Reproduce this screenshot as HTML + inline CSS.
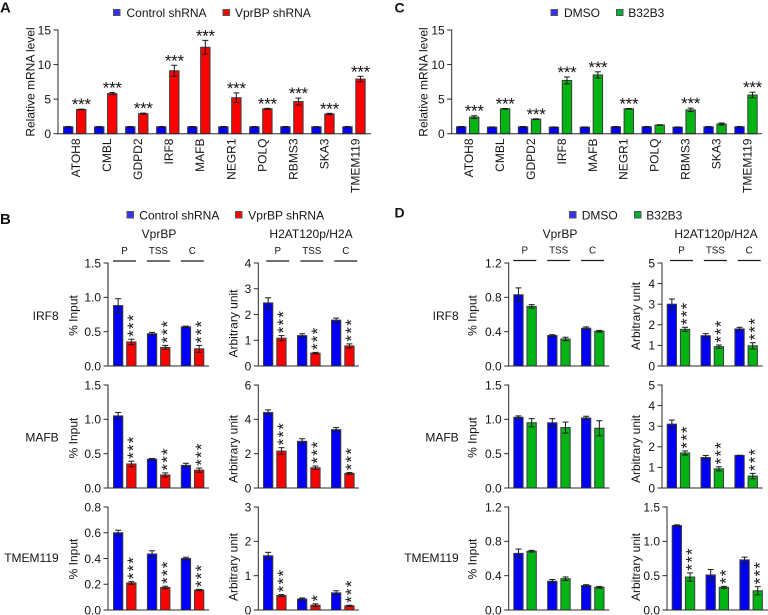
<!DOCTYPE html>
<html lang="en">
<head>
<meta charset="utf-8">
<title>mRNA and ChIP bar charts</title>
<style>
html,body{margin:0;padding:0;background:#fff;}
svg{display:block;}
text{font-family:"Liberation Sans",Arial,sans-serif;fill:#141414;}
</style>
</head>
<body>
<svg id="figure" width="768" height="615" viewBox="0 0 768 615" xmlns="http://www.w3.org/2000/svg">
  <rect x="0" y="0" width="768" height="615" fill="#ffffff"/>
  <text x="0" y="12.5" font-size="15" font-weight="bold">A</text>
  <text x="0" y="224" font-size="15" font-weight="bold">B</text>
  <text x="394.5" y="12.5" font-size="14" font-weight="bold">C</text>
  <text x="394.5" y="217.5" font-size="14" font-weight="bold">D</text>

  <g>
    <rect x="113.5" y="9.5" width="6.5" height="6" fill="#3030ff" stroke="#555" stroke-width="1"/>
    <text x="126.5" y="17" font-size="12">Control shRNA</text>
    <rect x="223" y="9.5" width="6.5" height="6" fill="#ff0000" stroke="#555" stroke-width="1"/>
    <text x="235" y="17" font-size="12">VprBP shRNA</text>
  </g>
  <g>
    <rect x="127" y="211.5" width="6.5" height="6.5" fill="#3030ff" stroke="#555" stroke-width="1"/>
    <text x="139.3" y="219.5" font-size="12">Control shRNA</text>
    <rect x="235.5" y="211.5" width="6.5" height="6.5" fill="#ff0000" stroke="#555" stroke-width="1"/>
    <text x="248.3" y="219.5" font-size="12">VprBP shRNA</text>
  </g>
  <g>
    <rect x="551" y="9.5" width="6.5" height="6" fill="#3030ff" stroke="#555" stroke-width="1"/>
    <text x="564" y="17" font-size="12">DMSO</text>
    <rect x="616.5" y="9.5" width="6.5" height="6" fill="#00b030" stroke="#555" stroke-width="1"/>
    <text x="628.3" y="17" font-size="12">B32B3</text>
  </g>
  <g>
    <rect x="569.5" y="211.5" width="6.5" height="6.5" fill="#3030ff" stroke="#555" stroke-width="1"/>
    <text x="581.7" y="219.5" font-size="12">DMSO</text>
    <rect x="634.5" y="211.5" width="6.5" height="6.5" fill="#00b030" stroke="#555" stroke-width="1"/>
    <text x="646.3" y="219.5" font-size="12">B32B3</text>
  </g>

  <g font-size="12" text-anchor="end">
    <text x="58.7" y="320" text-anchor="end" font-size="12">IRF8</text>
    <text x="58.7" y="441.7" text-anchor="end" font-size="12">MAFB</text>
    <text x="58.7" y="562" text-anchor="end" font-size="12">TMEM119</text>
  </g>
  <g font-size="12" text-anchor="end">
    <text x="458.7" y="320" text-anchor="end" font-size="12">IRF8</text>
    <text x="458.7" y="441.7" text-anchor="end" font-size="12">MAFB</text>
    <text x="458.7" y="562" text-anchor="end" font-size="12">TMEM119</text>
  </g>

  <g font-size="12">
    <text x="159" y="238" text-anchor="middle" font-size="12">VprBP</text>
    <text x="311" y="238" text-anchor="middle" font-size="12">H2AT120p/H2A</text>
    <text x="560" y="238" text-anchor="middle" font-size="12">VprBP</text>
    <text x="716" y="238" text-anchor="middle" font-size="12">H2AT120p/H2A</text>
  </g>
  <g id="charts"></g>
</svg>
<script>
// Panel A
var genes = ['ATOH8','CMBL','GDPD2','IRF8','MAFB','NEGR1','POLQ','RBMS3','SKA3','TMEM119'];
var aControl = [1,1,1,1,1,1,1,1,1,1];
var aControlErr = [0.04,0.04,0.04,0.04,0.04,0.04,0.04,0.04,0.03,0.04];
var aVprbp = [3.5,5.8,2.9,9.1,12.5,5.2,3.6,4.65,2.85,7.9];
var aVprbpErr = [0.06,0.15,0.08,0.8,1.0,0.7,0.07,0.5,0.1,0.4];
var aStars = ['***','***','***','***','***','***','***','***','***','***'];
// Panel C
var cDmso = [1,0.95,1,0.95,0.95,1,1,0.95,1,1];
var cDmsoErr = [0.04,0.03,0.04,0.03,0.03,0.04,0.04,0.03,0.04,0.04];
var cB32b3 = [2.4,3.6,2.1,7.7,8.5,3.6,1.25,3.45,1.4,5.6];
var cB32b3Err = [0.2,0.05,0.05,0.5,0.45,0.05,0.05,0.25,0.15,0.4];
var cStars = ['***','***','***','***','***','***','','***','','***'];
// Shared mRNA axis
var mrnaTicks = ['0','5','10','15'];
// Panel B
var sites = ['P','TSS','C'];
var bIrf8VprbpCtrl = [0.88,0.47,0.57];
var bIrf8VprbpCtrlErr = [0.1,0.02,0.01];
var bIrf8VprbpKd = [0.35,0.27,0.25];
var bIrf8VprbpKdErr = [0.04,0.03,0.05];
var bIrf8H2aCtrl = [2.45,1.18,1.78];
var bIrf8H2aCtrlErr = [0.2,0.07,0.08];
var bIrf8H2aKd = [1.08,0.5,0.78];
var bIrf8H2aKdErr = [0.1,0.03,0.08];
var bMafbVprbpCtrl = [1.05,0.42,0.33];
var bMafbVprbpCtrlErr = [0.05,0.01,0.03];
var bMafbVprbpKd = [0.35,0.19,0.26];
var bMafbVprbpKdErr = [0.04,0.03,0.03];
var bMafbH2aCtrl = [4.4,2.72,3.4];
var bMafbH2aCtrlErr = [0.15,0.15,0.12];
var bMafbH2aKd = [2.15,1.18,0.85];
var bMafbH2aKdErr = [0.2,0.1,0.05];
var bTmemVprbpCtrl = [0.6,0.435,0.4];
var bTmemVprbpCtrlErr = [0.02,0.025,0.01];
var bTmemVprbpKd = [0.21,0.175,0.155];
var bTmemVprbpKdErr = [0.01,0.01,0.005];
var bTmemH2aCtrl = [1.58,0.32,0.5];
var bTmemH2aCtrlErr = [0.1,0.03,0.06];
var bTmemH2aKd = [0.42,0.14,0.12];
var bTmemH2aKdErr = [0.03,0.04,0.02];
var starsAll = ['***','***','***'];
var starsTmemB = ['***','*','***'];
var starsTmemD = ['***','**','***'];
var starsNone = ['','',''];
// Panel D
var dIrf8VprbpDmso = [0.83,0.355,0.44];
var dIrf8VprbpDmsoErr = [0.08,0.01,0.015];
var dIrf8VprbpDrug = [0.695,0.315,0.405];
var dIrf8VprbpDrugErr = [0.02,0.02,0.01];
var dIrf8H2aDmso = [3.0,1.47,1.8];
var dIrf8H2aDmsoErr = [0.25,0.1,0.08];
var dIrf8H2aDrug = [1.78,0.94,0.98];
var dIrf8H2aDrugErr = [0.1,0.08,0.15];
var dMafbVprbpDmso = [1.03,0.95,1.02];
var dMafbVprbpDmsoErr = [0.02,0.06,0.025];
var dMafbVprbpDrug = [0.95,0.88,0.87];
var dMafbVprbpDrugErr = [0.06,0.08,0.11];
var dMafbH2aDmso = [3.1,1.48,1.58];
var dMafbH2aDmsoErr = [0.2,0.1,0.01];
var dMafbH2aDrug = [1.7,0.93,0.58];
var dMafbH2aDrugErr = [0.1,0.1,0.13];
var dTmemVprbpDmso = [0.66,0.335,0.285];
var dTmemVprbpDmsoErr = [0.05,0.02,0.01];
var dTmemVprbpDrug = [0.685,0.365,0.265];
var dTmemVprbpDrugErr = [0.01,0.02,0.01];
var dTmemH2aDmso = [1.23,0.51,0.73];
var dTmemH2aDmsoErr = [0.01,0.08,0.04];
var dTmemH2aDrug = [0.48,0.33,0.28];
var dTmemH2aDrugErr = [0.06,0.015,0.06];
// Tick labels
var ticks15 = ['0.0','0.5','1.0','1.5'];
var ticks08 = ['0.0','0.2','0.4','0.6','0.8'];
var ticks12 = ['0.0','0.4','0.8','1.2'];
var ticks4 = ['0','1','2','3','4'];
var ticks6 = ['0','2','4','6'];
var ticks3 = ['0','1','2','3'];
var ticks5 = ['0','1','2','3','4','5'];

var NS = 'http://www.w3.org/2000/svg';
var BLUE = '#0000f5', RED = '#ff0000', GREEN = '#00b414';
var root = document.getElementById('charts');

function node(parent, tag, attrs, name) {
  var el = document.createElementNS(NS, tag);
  for (var k in attrs) el.setAttribute(k, attrs[k]);
  
  
  parent.appendChild(el);
  return el;
}
function line(parent, x1, y1, x2, y2, name, color, width) {
  return node(parent, 'line', {x1:x1, y1:y1, x2:x2, y2:y2, stroke:color || '#2a2a2a', 'stroke-width':width || 1}, name);
}
function label(parent, x, y, str, size, anchor, name, rotate) {
  var attrs = {x:x, y:y, 'font-size':size, 'text-anchor':anchor};
  if (rotate) attrs.transform = 'rotate(-90 ' + x + ' ' + y + ')';
  var el = node(parent, 'text', attrs, name);
  el.textContent = str;
  return el;
}

/* Draws one bar panel: axes come from o.axisX / o.top / o.bottom / o.max, bars from the value arrays. */
function drawPanel(o) {
  var g = node(root, 'g', {}, o.name);
  var yScale = function (v) { return o.bottom - (v / o.max) * (o.bottom - o.top); };
  var xScale = function (i, s) { return o.x0 + i * o.period + s * o.pair; };
  var bw = o.barW;

  // bars first so the axis sits over them
  for (var s = 0; s < 2; s++) {
    var vals = s === 0 ? o.a : o.b;
    var errs = s === 0 ? o.aErr : o.bErr;
    for (var i = 0; i < vals.length; i++) {
      var x = xScale(i, s), y = yScale(vals[i]), cx = x + bw / 2;
      node(g, 'rect', {x:x + 0.5, y:y, width:bw - 1, height:o.bottom - y,
        fill:s === 0 ? BLUE : o.colorB, stroke:'#3c3c3c', 'stroke-width':1}, 'bar-' + o.cats[i] + (s === 0 ? '-control' : '-treated'));
      var yT = yScale(vals[i] + errs[i]), yB = yScale(vals[i] - errs[i]);
      line(g, cx, yT, cx, yB, 'error-bar', '#1a1a1a', 1);
      line(g, cx - 3, yT, cx + 3, yT, 'error-cap-top', '#1a1a1a', 1);
      line(g, cx - 3, yB, cx + 3, yB, 'error-cap-bottom', '#1a1a1a', 1);
      if (s === 1 && o.stars[i]) {
        if (o.horizontalStars) {
          var hs = label(g, cx, yT + 1, o.stars[i], 17, 'middle', 'significance-stars');
          hs.setAttribute('letter-spacing', '-0.3');
        } else {
          var st = label(g, cx + 7.7, yT - 2.3, o.stars[i], 17, 'start', 'significance-stars', true);
          st.setAttribute('letter-spacing', '1.2');
        }
      }
    }
  }

  // axes
  line(g, o.axisX, o.top - 0.5, o.axisX, o.bottom + 0.5, 'y-axis', o.axisColor || '#2a2a2a', o.axisW || 1);
  line(g, o.axisX, o.bottom, o.axisEnd, o.bottom, 'x-axis', '#2a2a2a', 1);
  for (var t = 0; t < o.ticks.length; t++) {
    var yy = yScale(parseFloat(o.ticks[t]));
    line(g, o.axisX - 4.5, yy, o.axisX, yy, 'y-tick', '#2a2a2a', 1);
    label(g, o.axisX - 7, yy + 4.3, o.ticks[t], 12, 'end', 'y-tick-label');
  }
  label(g, o.labelX, o.labelY, o.yTitle, 12, 'middle', 'y-axis-title', true);

  if (o.geneLabels) {
    for (var n = 0; n < o.cats.length; n++) {
      var c = xScale(n, 0) + (o.pair + bw) / 2;
      label(g, c + 5.4, 138.5, o.cats[n], 12, 'end', 'x-tick-label', true);
    }
  }
  if (o.siteY) {
    for (var q = 0; q < sites.length; q++) {
      var lx = xScale(q, 0) + o.headOff;
      line(g, lx, o.siteY, lx + 23, o.siteY, 'site-bracket', '#1a1a1a', 1.2);
      label(g, lx + 11.5, o.siteY - 6.8, sites[q], 9.8, 'middle', 'site-label');
    }
  }
}

var TITLE_M = 'Relative mRNA level', TITLE_P = '% Input', TITLE_A = 'Arbitrary unit';

drawPanel({name:'chart-a', cats:genes, a:aControl, aErr:aControlErr, b:aVprbp, bErr:aVprbpErr, stars:aStars,
  colorB:RED, x0:63, period:31.03, pair:13, barW:10.4, axisX:58, axisEnd:371, top:30, bottom:133.7, max:15,
  ticks:mrnaTicks, yTitle:TITLE_M, labelX:34.7, labelY:82, horizontalStars:true, geneLabels:true});
drawPanel({name:'chart-c', cats:genes, a:cDmso, aErr:cDmsoErr, b:cB32b3, bErr:cB32b3Err, stars:cStars,
  colorB:GREEN, x0:456, period:30.92, pair:13, barW:10.4, axisX:451.7, axisEnd:762, top:30, bottom:133.7, max:15,
  ticks:mrnaTicks, yTitle:TITLE_M, labelX:427.3, labelY:82, horizontalStars:true, geneLabels:true});

// Panel B, VprBP column
drawPanel({name:'chart-b-irf8-vprbp', cats:sites, a:bIrf8VprbpCtrl, aErr:bIrf8VprbpCtrlErr, b:bIrf8VprbpKd, bErr:bIrf8VprbpKdErr, stars:starsAll,
  colorB:RED, x0:113, period:33.9, pair:13.2, barW:10.3, axisX:108, axisEnd:209, top:263, bottom:366, max:1.5,
  ticks:ticks15, yTitle:TITLE_P, labelX:77.7, labelY:315.5, axisColor:'#6e6e6e', axisW:1.6, siteY:261, headOff:0});
drawPanel({name:'chart-b-mafb-vprbp', cats:sites, a:bMafbVprbpCtrl, aErr:bMafbVprbpCtrlErr, b:bMafbVprbpKd, bErr:bMafbVprbpKdErr, stars:starsAll,
  colorB:RED, x0:113, period:33.9, pair:13.2, barW:10.3, axisX:108, axisEnd:209, top:385, bottom:488, max:1.5,
  ticks:ticks15, yTitle:TITLE_P, labelX:77.7, labelY:438, axisColor:'#6e6e6e', axisW:1.6});
drawPanel({name:'chart-b-tmem119-vprbp', cats:sites, a:bTmemVprbpCtrl, aErr:bTmemVprbpCtrlErr, b:bTmemVprbpKd, bErr:bTmemVprbpKdErr, stars:starsAll,
  colorB:RED, x0:113, period:33.9, pair:13.2, barW:10.3, axisX:108, axisEnd:209, top:507, bottom:610, max:0.8,
  ticks:ticks08, yTitle:TITLE_P, labelX:77.7, labelY:559});

// Panel B, H2A column
drawPanel({name:'chart-b-irf8-h2a', cats:sites, a:bIrf8H2aCtrl, aErr:bIrf8H2aCtrlErr, b:bIrf8H2aKd, bErr:bIrf8H2aKdErr, stars:starsAll,
  colorB:RED, x0:263, period:34, pair:13.3, barW:10.3, axisX:258.3, axisEnd:359, top:263, bottom:366, max:4,
  ticks:ticks4, yTitle:TITLE_A, labelX:237.3, labelY:323.5, siteY:261, headOff:3.3});
drawPanel({name:'chart-b-mafb-h2a', cats:sites, a:bMafbH2aCtrl, aErr:bMafbH2aCtrlErr, b:bMafbH2aKd, bErr:bMafbH2aKdErr, stars:starsAll,
  colorB:RED, x0:263, period:34, pair:13.3, barW:10.3, axisX:258.3, axisEnd:359, top:385, bottom:488, max:6,
  ticks:ticks6, yTitle:TITLE_A, labelX:237.3, labelY:449});
drawPanel({name:'chart-b-tmem119-h2a', cats:sites, a:bTmemH2aCtrl, aErr:bTmemH2aCtrlErr, b:bTmemH2aKd, bErr:bTmemH2aKdErr, stars:starsTmemB,
  colorB:RED, x0:263, period:34, pair:13.3, barW:10.3, axisX:258.3, axisEnd:359, top:507, bottom:610, max:3,
  ticks:ticks3, yTitle:TITLE_A, labelX:237.3, labelY:567});

// Panel D, VprBP column
drawPanel({name:'chart-d-irf8-vprbp', cats:sites, a:dIrf8VprbpDmso, aErr:dIrf8VprbpDmsoErr, b:dIrf8VprbpDrug, bErr:dIrf8VprbpDrugErr, stars:starsNone,
  colorB:GREEN, x0:513.3, period:33.85, pair:13.2, barW:10.3, axisX:508.7, axisEnd:609.3, top:263, bottom:366, max:1.2,
  ticks:ticks12, yTitle:TITLE_P, labelX:476.7, labelY:315.5, siteY:260.5, headOff:0});
drawPanel({name:'chart-d-mafb-vprbp', cats:sites, a:dMafbVprbpDmso, aErr:dMafbVprbpDmsoErr, b:dMafbVprbpDrug, bErr:dMafbVprbpDrugErr, stars:starsNone,
  colorB:GREEN, x0:513.3, period:33.85, pair:13.2, barW:10.3, axisX:508.7, axisEnd:609.3, top:385, bottom:488, max:1.5,
  ticks:ticks15, yTitle:TITLE_P, labelX:476.7, labelY:437.5});
drawPanel({name:'chart-d-tmem119-vprbp', cats:sites, a:dTmemVprbpDmso, aErr:dTmemVprbpDmsoErr, b:dTmemVprbpDrug, bErr:dTmemVprbpDrugErr, stars:starsNone,
  colorB:GREEN, x0:513.3, period:33.85, pair:13.2, barW:10.3, axisX:508.7, axisEnd:609.3, top:507, bottom:610, max:1.2,
  ticks:ticks12, yTitle:TITLE_P, labelX:476.7, labelY:559});

// Panel D, H2A column
drawPanel({name:'chart-d-irf8-h2a', cats:sites, a:dIrf8H2aDmso, aErr:dIrf8H2aDmsoErr, b:dIrf8H2aDrug, bErr:dIrf8H2aDrugErr, stars:starsAll,
  colorB:GREEN, x0:666.7, period:33.85, pair:13.2, barW:10.3, axisX:662, axisEnd:762.7, top:263, bottom:366, max:5,
  ticks:ticks5, yTitle:TITLE_A, labelX:640, labelY:316, siteY:260.5, headOff:3.3});
drawPanel({name:'chart-d-mafb-h2a', cats:sites, a:dMafbH2aDmso, aErr:dMafbH2aDmsoErr, b:dMafbH2aDrug, bErr:dMafbH2aDrugErr, stars:starsAll,
  colorB:GREEN, x0:666.7, period:33.85, pair:13.2, barW:10.3, axisX:662, axisEnd:762.7, top:385, bottom:488, max:5,
  ticks:ticks5, yTitle:TITLE_A, labelX:640, labelY:449});
drawPanel({name:'chart-d-tmem119-h2a', cats:sites, a:dTmemH2aDmso, aErr:dTmemH2aDmsoErr, b:dTmemH2aDrug, bErr:dTmemH2aDrugErr, stars:starsTmemD,
  colorB:GREEN, x0:671.7, period:33.85, pair:13.2, barW:10.3, axisX:667, axisEnd:768, top:507, bottom:610, max:1.5,
  ticks:ticks15, yTitle:TITLE_A, labelX:640, labelY:567});
</script>
</body>
</html>
